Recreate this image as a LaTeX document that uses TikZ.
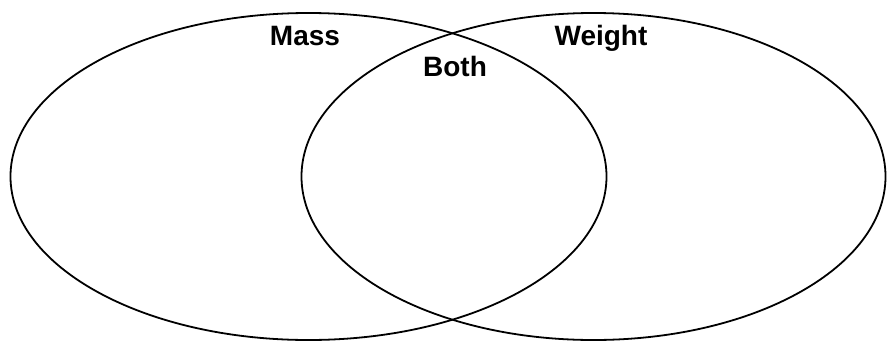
\documentclass[tikz,border=0pt]{standalone}
\usepackage{fontspec}
\setmainfont{Liberation Sans}
\usetikzlibrary{shapes.geometric}
\begin{document}
\begin{tikzpicture}[x=1pt,y=-1pt,
  ring/.style={draw=black,line width=1.8pt,ellipse,inner sep=0pt},
  lbl/.style={font=\bfseries\fontsize{28}{30}\selectfont,anchor=base,inner sep=0pt}]
\useasboundingbox (0,0) rectangle (888,343);
\fill[white] (0,0) rectangle (888,343);
\node[ring,minimum width=596pt,minimum height=327pt] (massset) at (308.5,176.5) {};
\node[ring,minimum width=584pt,minimum height=327pt] (weightset) at (593.5,176.5) {};
\node[lbl] (mass) at (305,45) {Mass};
\node[lbl] (weight) at (601,45) {Weight};
\node[lbl] (both) at (455,76) {Both};
\end{tikzpicture}
\end{document}
